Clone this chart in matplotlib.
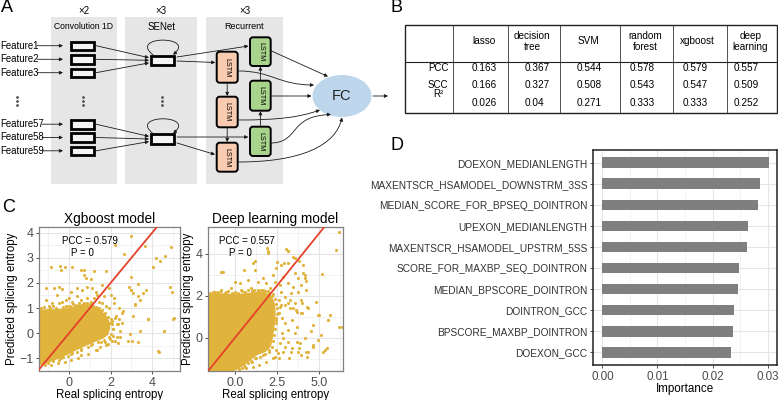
import matplotlib
matplotlib.use("Agg")
import matplotlib.pyplot as plt
from matplotlib.patches import Rectangle, FancyBboxPatch, Ellipse, FancyArrowPatch
from matplotlib.path import Path
import numpy as np

plt.rcParams['font.family'] = ['Liberation Sans', 'DejaVu Sans']

W, H = 778, 400

# ---------------- data ----------------
# B: model comparison
models = ["lasso", "decision\ntree", "SVM", "random\nforest", "xgboost", "deep\nlearning"]
metrics = ["PCC", "SCC", "R²"]
pcc = [0.163, 0.367, 0.544, 0.578, 0.579, 0.557]
scc = [0.166, 0.327, 0.508, 0.543, 0.547, 0.509]
r2 = [0.026, 0.04, 0.271, 0.333, 0.333, 0.252]

# C: predicted vs real splicing entropy (outline of the dense core + scattered points)
xgb_core_x = [-1.49, -1.01, -0.53, -0.05, 0.27, 0.59, 0.91, 1.20, 1.50, 1.75, 1.92, 1.95, 1.85,
              1.60, 1.23, 0.75, 0.27, -0.21, -0.69, -1.17, -1.49]
xgb_core_y = [0.90, 0.93, 0.93, 0.97, 1.05, 1.12, 1.12, 1.02, 0.90, 0.70, 0.45, 0.20, -0.05,
              -0.20, -0.32, -0.50, -0.68, -0.88, -1.05, -1.20, -1.27]
xgb_x = [3.0, 2.23, 3.67, 4.89, 4.20, 4.60, 4.36, 4.04, 4.84, 4.95, 3.32, 3.0, 3.72, 3.32, 3.56,
         3.16, 3.80, 5.0, 4.57, 4.28, 1.80, 1.47, 1.31, 0.91, 0.59, 0.43, 0.11, -0.21, -0.53,
         -0.85, 1.56, 1.07, 0.59, 0.11, -0.37, -1.17, 2.20, 2.36, 2.44, 2.12, 1.96,
         -0.88, -0.45, -0.40, -0.19, 0.16, 0.56, 0.72, 0.72, 0.80, 1.04, 1.20, 1.76, 2.64, 2.97,
         -1.12, -0.72, -0.48, -0.32, -0.56, 0.08, 0.40, 0.64, 0.88, 1.12, 1.28, 1.60, 1.36, 1.68,
         1.92, 2.00, 2.16, 0.00, 0.16, 0.40, 0.56, 0.72, 0.88, 1.04, 1.20, 1.44, 1.60, 1.76,
         1.92, 2.16, 2.40, 2.56, 2.89, 3.05, 2.97, -0.80, -0.48, -0.32, -0.16, -0.96, -1.12,
         -0.08, 0.48, 0.96, 1.36, 2.24, 2.40, 2.08, 2.32, 2.56,
         3.17, 3.41, 3.09, 2.61, 3.81, 5.02, 4.54, 3.41, 2.93, 2.85, 3.01, 3.33, 4.30, 1.33,
         2.37, 2.45, 2.29, 2.05, 1.89, 1.73, 2.13, 2.21, 1.97, 1.73]
xgb_y = [3.85, 3.50, 3.46, 3.42, 2.98, 3.05, 2.85, 2.64, 1.84, 1.65, 1.97, 1.71, 1.71, 1.48, 1.59,
         1.13, 0.55, 0.58, 0.10, -0.72, -0.48, -0.55, -0.68, -0.81, -0.87, -1.00, -1.06, -1.13,
         -1.19, -1.26, -0.35, -0.48, -0.68, -0.84, -1.00, -1.28, -0.29, -0.38, -0.16, -0.09,
         -0.22,
         2.62, 2.68, 2.52, 2.65, 2.62, 2.52, 2.52, 2.30, 2.21, 2.17, 2.49, 2.49, 3.14, 2.23,
         1.78, 1.78, 1.84, 1.74, 1.52, 1.65, 1.78, 1.71, 1.84, 1.78, 1.65, 1.91, 1.52, 1.46,
         1.78, 1.52, 1.39, 1.39, 1.26, 1.46, 1.33, 1.20, 1.39, 1.26, 1.39, 1.26, 1.20, 1.07,
         1.00, 1.20, 1.00, 0.81, 1.84, 1.59, 1.71, 1.20, 1.20, 1.26, 1.33, 1.07, 1.33,
         1.07, 1.07, 1.07, 1.00, 0.68, 0.55, 0.49, 0.36, 0.42,
         1.16, 1.33, 0.68, 0.87, 0.55, 0.59, 0.07, 0.07, -0.03, -0.29, -0.31, -0.35, -0.74,
         -0.68, 0.36, 0.10, -0.16, -0.29, -0.42, -0.35, 0.16, 0.62, 0.42, 0.23]
# points just outside the dense core
xgb_edge_x = [-1.35, -1.20, -0.90, -0.75, -0.60, -0.30, -0.15, 0.05, 0.20, 0.35, 0.50, 0.65,
              0.85, 1.00, 1.15, 1.30, 1.45, 1.60, 1.75, 1.85, 2.00, 2.05, 2.10, 2.00, 1.90,
              1.70, 1.40, 1.10, 0.90, 0.60, 0.40, 0.15, -0.05, -0.30, -0.50, -0.75, -1.00]
xgb_edge_y = [1.00, 1.05, 1.00, 1.08, 1.00, 1.05, 1.10, 1.08, 1.15, 1.12, 1.20, 1.18, 1.22,
              1.18, 1.10, 1.05, 1.00, 0.92, 0.82, 0.65, 0.55, 0.35, 0.15, -0.05, -0.15, -0.28,
              -0.35, -0.42, -0.55, -0.62, -0.75, -0.78, -0.90, -0.95, -1.05, -1.12, -1.20]

dl_core_x = [-1.72, -1.13, -0.53, 0.06, 0.65, 1.25, 1.74, 2.10, 2.30, 2.37, 2.35, 2.30, 2.20,
             2.10, 1.80, 1.30, 0.90, 0.50, 0.10, -0.20, -1.72]
dl_core_y = [2.05, 2.10, 2.08, 2.05, 2.10, 2.15, 2.15, 2.00, 1.70, 1.30, 0.90, 0.50, 0.00,
             -0.40, -0.65, -0.80, -1.05, -1.30, -1.50, -1.60, -1.60]
dl_x = [6.19, 1.90, 1.98, 3.03, 3.13, 3.46, 3.58, 3.82, 2.93, 2.47, 1.21, -0.83, 0.55, 4.02,
        4.12, 4.21, 5.16, 5.99, 4.81, 4.91, 5.10, 5.24, 5.64, 6.15, 5.50, 4.51, 4.61, 4.21,
        3.82, 3.32, 2.83, 3.22, 2.24, 1.84, 1.44, 1.05, 0.65, 0.26, 1.64, 2.04, 2.63, 3.92,
        4.91, 2.43, 1.25, 0.95, 0.55, 2.43, 2.63, 2.73, 2.63, 2.24, 1.94, 1.64,
        1.96, 3.14, -0.71, 1.07, 1.17, 2.45, 2.75, 3.14, 4.04, 2.26, 2.85, 3.54, 3.74, 4.13,
        -0.02, 0.28, 0.77, 1.37, 1.66, 1.86, 2.35, 2.65, 3.14, 3.44, 3.94, -0.22, -0.81,
        -1.21, -0.51, 0.38, 0.97, 1.37, 2.06, 2.75, 3.34, 3.74, 4.23, 2.95, 3.25, 3.54, 3.94,
        3.64, 3.94, 3.25, 2.95, 4.33,
        3.17, 3.46, 3.66, 3.96, 4.25, 3.96, 4.95, 5.54, 6.33, 4.65, 3.66, 3.36, 3.17, 3.56,
        4.16, 3.86, 3.66, 3.17, 2.87, 2.77, 2.67, 2.97, 3.36, 3.76, 4.35, 4.65, 5.44, 5.34,
        4.25, 2.57, 2.37, 2.77, 2.97, 2.57, 2.67]
dl_y = [5.07, 4.28, 4.04, 4.24, 4.15, 3.88, 3.80, 3.67, 3.56, 3.64, 3.67, 3.16, 3.24, 3.08,
        2.87, 2.71, 3.03, 4.20, 1.69, 1.09, 0.13, -0.67, 1.09, 0.53, 0.85, 0.32, -0.35, -0.67,
        -0.51, -0.67, -0.67, -0.99, -0.99, -1.15, -1.31, -1.39, -1.47, -1.50, -0.83, -0.67,
        -0.99, -0.83, -0.11, -0.59, -0.95, -1.10, -1.30, 0.85, 1.17, 1.56, 1.80, 2.10, 2.24,
        2.30,
        4.12, 4.12, 3.16, 3.56, 3.24, 3.32, 3.48, 3.56, 3.48, 3.00, 2.92, 3.08, 2.84, 3.00,
        2.68, 2.60, 2.76, 2.68, 2.84, 2.60, 2.68, 2.52, 2.60, 2.44, 2.52, 2.36, 2.28, 2.20,
        2.20, 2.28, 2.36, 2.28, 2.36, 2.20, 2.12, 2.20, 2.28, 1.96, 1.80, 1.64, 1.80, 1.33,
        1.17, 1.40, 1.56, 1.40,
        1.64, 1.40, 1.25, 1.64, 1.48, 1.17, 1.09, 0.85, 0.53, 0.61, 0.53, 0.85, 0.37, 0.21,
        -0.03, -0.27, -0.19, -0.19, -0.03, 0.21, -0.27, -0.43, -0.51, -0.67, -0.67, -0.43,
        -0.51, -0.59, -0.91, -0.75, -0.91, 0.93, 0.69, 1.17, 1.48]
dl_edge_x = [-1.50, -1.30, -1.00, -0.80, -0.60, -0.40, -0.20, 0.00, 0.20, 0.40, 0.60, 0.80,
             1.00, 1.15, 1.35, 1.55, 1.80, 2.00, 2.20, 2.35, 2.45, 2.50, 2.48, 2.45, 2.42,
             2.38, 2.30, 2.28, 2.20, 2.00, 1.75, 1.50, 1.20, 1.00, 0.80, 0.60, 0.40, 0.25]
dl_edge_y = [2.15, 2.20, 2.18, 2.25, 2.15, 2.22, 2.15, 2.20, 2.15, 2.25, 2.20, 2.28, 2.22,
             2.30, 2.25, 2.30, 2.25, 2.15, 2.00, 1.85, 1.60, 1.40, 1.15, 0.95, 0.70, 0.40,
             0.15, -0.15, -0.45, -0.60, -0.80, -0.90, -0.95, -1.15, -1.20, -1.40, -1.45, -1.55]

# D: feature importance (top to bottom)
features = ["DOEXON_MEDIANLENGTH", "MAXENTSCR_HSAMODEL_DOWNSTRM_3SS",
            "MEDIAN_SCORE_FOR_BPSEQ_DOINTRON", "UPEXON_MEDIANLENGTH",
            "MAXENTSCR_HSAMODEL_UPSTRM_5SS", "SCORE_FOR_MAXBP_SEQ_DOINTRON",
            "MEDIAN_BPSCORE_DOINTRON", "DOINTRON_GCC", "BPSCORE_MAXBP_DOINTRON", "DOEXON_GCC"]
importance = [0.0302, 0.0286, 0.0282, 0.0264, 0.0262, 0.0248, 0.0246, 0.0239, 0.0238, 0.0233]

# ---------------- figure ----------------
fig = plt.figure(figsize=(W / 100, H / 100), dpi=100)
ov = fig.add_axes([0, 0, 1, 1])
ov.set_xlim(0, W)
ov.set_ylim(H, 0)
ov.axis('off')

for lab, x, y in [("A", 1, 8), ("B", 391, 8), ("C", 2, 207), ("D", 391, 146)]:
    ov.text(x, y, lab, fontsize=13, ha='left', va='center')

# ---- A: network diagram ----
stages = [("×2", "Convolution 1D", 50.7, 66, 6.2), ("×3", "SENet", 125, 72.3, 7),
          ("×3", "Recurrent", 205.7, 77.6, 6.5)]
for rep, name, x0, w, fs in stages:
    ov.add_patch(Rectangle((x0, 17), w, 167, fc='#e6e6e6', ec='none'))
    ov.text(x0 + w / 2, 11.5, rep, fontsize=7, ha='center', va='center')
    ov.text(x0 + w / 2, 26.5, name, fontsize=fs, ha='center', va='center')

ARW = dict(arrowstyle='-|>', mutation_scale=5, lw=0.6, color='#1a1a1a', shrinkA=0, shrinkB=0)


def arrow(p0, p1, rad=0.0):
    ov.add_patch(FancyArrowPatch(p0, p1, connectionstyle=f"arc3,rad={rad}", **ARW))


def curve(pts):
    path = Path(pts, [Path.MOVETO, Path.CURVE4, Path.CURVE4, Path.CURVE4])
    ov.add_patch(FancyArrowPatch(path=path, **ARW))


feat_names = ["Feature1", "Feature2", "Feature3", "Feature57", "Feature58", "Feature59"]
feat_y = [45.7, 59.3, 72.7, 124.2, 137.5, 150.8]
for name, y in zip(feat_names, feat_y):
    ov.text(0, y, name, fontsize=6.9, ha='left', va='center')
    t0 = 37 if len(name) == 8 else 42
    arrow((t0, y), (63, y))
    ov.add_patch(Rectangle((71, y - 4.2), 23, 8.6, fc='#f4f4f4', ec='black', lw=2.0))

for x in [16.7, 83, 162]:
    ov.plot([x] * 3, [97, 101, 105], 'o', ms=1.0, color='#555555')

for yc, src in [(60.3, feat_y[:3]), (139, feat_y[3:])]:
    ov.add_patch(Rectangle((151, yc - 4.7), 23.5, 9.4, fc='#f4f4f4', ec='black', lw=2.0))
    for k, ys in enumerate(src):
        arrow((96, ys), (149, yc - 2.6 + 2.6 * k))
    curve([(153, yc - 5.5), (128, yc - 25), (197, yc - 25), (173, yc - 5.5)])

orange_y = [(51.7, 82.7), (96.7, 127.3), (142.7, 171.7)]
green_y = [(37.3, 66), (80.7, 110.7), (126.7, 156)]
for (y0, y1) in orange_y:
    ov.add_patch(FancyBboxPatch((216.7, y0), 21, y1 - y0, boxstyle="round,pad=0,rounding_size=3",
                                fc='#f9cbb0', ec='black', lw=1.4))
    ov.text(227.2, (y0 + y1) / 2, "LSTM", fontsize=5.2, rotation=-90, ha='center', va='center')
for (y0, y1) in green_y:
    ov.add_patch(FancyBboxPatch((250, y0), 20.7, y1 - y0, boxstyle="round,pad=0,rounding_size=3",
                                fc='#a9d48b', ec='black', lw=1.4))
    ov.text(260.4, (y0 + y1) / 2, "LSTM", fontsize=5.2, rotation=-90, ha='center', va='center')

arrow((177, 57), (248.5, 46))
arrow((177, 61), (215.3, 62.5))
arrow((177, 137), (248.3, 137))
arrow((177, 143), (215, 154.5))
arrow((227.2, 83.5), (227.2, 96))
arrow((227.2, 128), (227.2, 142))
arrow((260.4, 126.2), (260.4, 111.2))
arrow((260.4, 80.2), (260.4, 66.5))

ov.add_patch(Ellipse((342, 96), 59, 42, fc='#bdd6ec', ec='none'))
ov.text(342, 96.5, "FC", fontsize=10.5, ha='center', va='center', color='#222222')
arrow((271.5, 51), (328, 76.5))
arrow((271.5, 96), (311.5, 96))
curve([(238.5, 71), (272, 71), (278, 85), (314, 85)])
curve([(238.5, 120), (280, 120), (300, 117), (320, 110)])
curve([(271.5, 143), (300, 142), (288, 116), (331, 114.5)])
curve([(238.5, 162), (300, 162), (336, 146), (342, 117.5)])
arrow((373, 96), (388, 96))

# ---- B: table ----
tx0, tx1, ty0, ty1, ty_head = 405, 777, 25, 113, 62
col_lines = [453, 508, 560, 620, 673, 727]
head_x = [484, 532, 588, 645, 697.5, 750.5]
val_x = [471.7, 524.3, 576.7, 629.3, 682.7, 733.3]
row_y = [68.3, 85, 103.3]
lab_y = [68.3, 84.5, 94]
ov.add_patch(Rectangle((tx0, ty0), tx1 - tx0, ty1 - ty0, fc='none', ec='#222222', lw=1.0))
ov.plot([tx0, tx1], [ty_head, ty_head], color='#222222', lw=0.8)
for cx in col_lines:
    ov.plot([cx, cx], [ty0, ty1], color='#333333', lw=0.6)
for name, hx in zip(models, head_x):
    ov.text(hx, 41.5, name, fontsize=7.2, ha='center', va='center', linespacing=1.15)
for vals, lab, ry, ly in zip([pcc, scc, r2], metrics, row_y, lab_y):
    ov.text(438, ly, lab, fontsize=7.0, ha='center', va='center')
    for v, vx in zip(vals, val_x):
        ov.text(vx, ry, str(v), fontsize=7.2, ha='left', va='center')


# ---- C: scatter panels ----
def style_scatter(ax):
    for s in ax.spines.values():
        s.set_color('#808080')
        s.set_linewidth(0.9)
    ax.grid(which='major', color='#e5e5e5', lw=0.8)
    ax.grid(which='minor', color='#eeeeee', lw=0.5)
    ax.set_axisbelow(True)
    ax.tick_params(which='major', length=2.5, width=0.6, color='#333333', labelsize=9,
                   labelcolor='#4d4d4d', pad=1.5)
    ax.tick_params(which='minor', length=0)


gold = '#e0b33c'
panels = [
    ([39, 227, 141, 144], xgb_core_x, xgb_core_y, xgb_x + xgb_edge_x, xgb_y + xgb_edge_y,
     (-1.44, 5.33), (-1.36, 4.22), [0, 2, 4], ["0", "2", "4"], [-1, 1, 3, 5],
     [-1, 0, 1, 2, 3, 4], np.arange(-1.5, 4.3, 0.5), "Xgboost model", "PCC = 0.579",
     (0.36, 0.305)),
    ([208, 227, 135, 144], dl_core_x, dl_core_y, dl_x + dl_edge_x, dl_y + dl_edge_y,
     (-1.6, 6.4), (-1.59, 5.29), [0, 2.5, 5], ["0.0", "2.5", "5.0"], [-1.25, 1.25, 3.75, 6.25],
     [0, 2, 4], [-1, 1, 3, 5], "Deep learning model", "PCC = 0.557", (0.29, 0.237)),
]
for (px, py, pw, ph), cx, cy, sx, sy, xl, yl, xt, xtl, xm, yt, ym, title, pcc_txt, tx in panels:
    ax = fig.add_axes([px / W, 1 - (py + ph) / H, pw / W, ph / H])
    ax.fill(cx, cy, color=gold, lw=1.0, ec=gold, zorder=2)
    ax.scatter(sx, sy, s=5, color=gold, linewidths=0, zorder=2)
    ax.axline((0, 0), slope=1, color='#e4412b', lw=1.3, zorder=3)
    ax.set_xlim(*xl)
    ax.set_ylim(*yl)
    ax.set_xticks(xt)
    ax.set_xticklabels(xtl)
    ax.set_xticks(xm, minor=True)
    ax.set_yticks(yt)
    ax.set_yticks(ym, minor=True)
    style_scatter(ax)
    ax.set_title(title, fontsize=9.8, pad=3)
    ax.set_xlabel("Real splicing entropy", fontsize=8.3, labelpad=0)
    ax.set_ylabel("Predicted splicing entropy", fontsize=8.3, labelpad=1)
    ax.text(tx[0], 0.905, pcc_txt, transform=ax.transAxes, fontsize=7,
            ha='center', va='center', zorder=4)
    ax.text(tx[1], 0.822, "P = 0", transform=ax.transAxes, fontsize=7,
            ha='center', va='center', zorder=4)

# ---- D: importance bars ----
axd = fig.add_axes([593 / W, 1 - 365 / H, 184 / W, 215 / H])
ypos = np.arange(len(features))
axd.barh(ypos, importance, height=0.5, color='#7f7f7f', zorder=2)
axd.set_ylim(len(features) - 0.4, -0.6)
axd.set_xlim(-0.0017, 0.0317)
axd.set_yticks(ypos)
axd.set_yticklabels(features)
axd.set_xticks([0, 0.01, 0.02, 0.03])
axd.set_xticklabels(["0.00", "0.01", "0.02", "0.03"])
axd.set_xticks([0.005, 0.015, 0.025], minor=True)
axd.grid(which='major', color='#e5e5e5', lw=0.8)
axd.grid(which='minor', axis='x', color='#eeeeee', lw=0.5)
axd.set_axisbelow(True)
for s in axd.spines.values():
    s.set_color('#222222')
    s.set_linewidth(1.1)
axd.tick_params(which='major', length=2.5, width=0.6, color='#333333', pad=1.5)
axd.tick_params(which='minor', length=0)
axd.tick_params(axis='y', labelsize=7.3, labelcolor='#333333')
axd.tick_params(axis='x', labelsize=8.4, labelcolor='#4d4d4d')
axd.set_xlabel("Importance", fontsize=8.4, labelpad=0.5)

fig.savefig("out.png", dpi=100)
